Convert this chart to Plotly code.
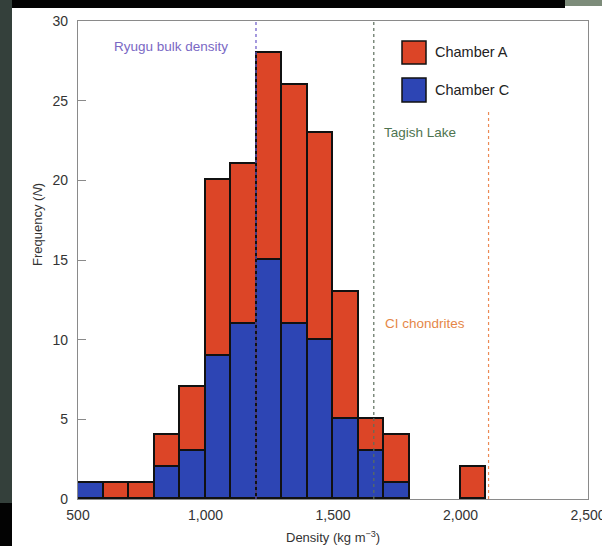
import plotly.graph_objects as go

# ---- data ----
bin_left = [500, 600, 700, 800, 900, 1000, 1100, 1200, 1300, 1400, 1500, 1600, 1700, 2000]
chamber_c = [1, 0, 0, 2, 3, 9, 11, 15, 11, 10, 5, 3, 1, 0]
chamber_a = [0, 1, 1, 2, 4, 11, 10, 13, 15, 13, 8, 2, 3, 2]
bin_width = 100
series_names = ["Chamber A", "Chamber C"]
series_colors = ["#dc4527", "#2d45b4"]

ref_names = ["Ryugu bulk density", "Tagish Lake", "CI chondrites"]
ref_values = [1198, 1660, 2110]
ref_tops = [30, 30, 24.3]
ref_line_colors = ["#6a56c8", "#5d6e5c", "#ec8a55"]
ref_text_colors = ["#7a68c4", "#4e7450", "#e58748"]

x_ticks = [500, 1000, 1500, 2000, 2500]
y_ticks = [0, 5, 10, 15, 20, 25, 30]

FONT = "Liberation Sans, Arial, Helvetica, sans-serif"
W, H = 602, 546
ML, MR, MT, MB = 78, 14, 21, 47
PW = W - ML - MR
PH = H - MT - MB

def px_x(p):
    return (p - ML) / PW

def px_y(p):
    return 1 - (p - MT) / PH

centers = [b + bin_width / 2 for b in bin_left]

fig = go.Figure()
fig.add_trace(go.Bar(x=centers, y=chamber_c, width=bin_width, name=series_names[1],
                     marker=dict(color=series_colors[1], line=dict(color="#111111", width=1.6)),
                     showlegend=False))
fig.add_trace(go.Bar(x=centers, y=chamber_a, width=bin_width, name=series_names[0],
                     marker=dict(color=series_colors[0], line=dict(color="#111111", width=1.6)),
                     showlegend=False))

for name, v, top, lc in zip(ref_names, ref_values, ref_tops, ref_line_colors):
    fig.add_trace(go.Scatter(x=[v, v], y=[0, top], mode="lines",
                             line=dict(color=lc, width=1.2, dash="dot"),
                             showlegend=False, hoverinfo="skip"))

annotations = []
# reference labels
annotations.append(dict(x=864, y=28.4, xref="x", yref="y", text=ref_names[0], showarrow=False,
                        xanchor="center", yanchor="middle",
                        font=dict(family=FONT, size=13.5, color=ref_text_colors[0])))
annotations.append(dict(x=1691, y=23.0, xref="x", yref="y", text=ref_names[1], showarrow=False,
                        xanchor="left", yanchor="middle",
                        font=dict(family=FONT, size=13.5, color=ref_text_colors[1])))
annotations.append(dict(x=1695, y=11.0, xref="x", yref="y", text=ref_names[2], showarrow=False,
                        xanchor="left", yanchor="middle",
                        font=dict(family=FONT, size=13.5, color=ref_text_colors[2])))
# axis titles
annotations.append(dict(x=px_x(38), y=17.2, xref="paper", yref="y", text="Frequency (<i>N</i>)",
                        textangle=-90, showarrow=False, xanchor="center", yanchor="middle",
                        font=dict(family=FONT, size=13, color="#333333")))
annotations.append(dict(x=0.5, y=px_y(537), xref="paper", yref="paper",
                        text="Density (kg m<sup>\u22123</sup>)", showarrow=False,
                        xanchor="center", yanchor="middle",
                        font=dict(family=FONT, size=13, color="#333333")))

shapes = []
# manual legend
leg_rows = [(series_names[0], series_colors[0], 41, 64), (series_names[1], series_colors[1], 78, 102)]
for name, col, y0, y1 in leg_rows:
    shapes.append(dict(type="rect", xref="paper", yref="paper",
                       x0=px_x(402), x1=px_x(426), y0=px_y(y1), y1=px_y(y0),
                       fillcolor=col, line=dict(color="#111111", width=1.5)))
    annotations.append(dict(x=px_x(433), y=px_y((y0 + y1) / 2), xref="paper", yref="paper",
                            text=name, showarrow=False, xanchor="left", yanchor="middle",
                            font=dict(family=FONT, size=14.5, color="#222222")))

# photo surroundings (dark edges)
shapes.append(dict(type="rect", xref="paper", yref="paper", x0=px_x(0), x1=px_x(12),
                   y0=px_y(503), y1=px_y(0), fillcolor="#34403b", line=dict(width=0), layer="above"))
shapes.append(dict(type="rect", xref="paper", yref="paper", x0=px_x(0), x1=px_x(12),
                   y0=px_y(546), y1=px_y(503), fillcolor="#030303", line=dict(width=0), layer="above"))
shapes.append(dict(type="rect", xref="paper", yref="paper", x0=px_x(12), x1=px_x(565),
                   y0=px_y(8), y1=px_y(0), fillcolor="#030303", line=dict(width=0), layer="above"))
shapes.append(dict(type="rect", xref="paper", yref="paper", x0=px_x(565), x1=px_x(602),
                   y0=px_y(6), y1=px_y(0), fillcolor="#7d8c7a", line=dict(width=0), layer="above"))

fig.update_layout(
    width=W, height=H,
    margin=dict(l=ML, r=MR, t=MT, b=MB, pad=0),
    paper_bgcolor="white", plot_bgcolor="white",
    barmode="stack", bargap=0,
    showlegend=False,
    font=dict(family=FONT, size=14, color="#333333"),
    annotations=annotations,
    shapes=shapes,
    xaxis=dict(range=[500, 2500], tickvals=x_ticks, tickformat=",", showgrid=False, zeroline=False,
               showline=True, linecolor="#8a8a8a", linewidth=1.2, mirror=True, automargin=False,
               ticks="", tickfont=dict(family=FONT, size=14, color="#333333"),
               ticklabelstandoff=3, ticklabeloverflow="allow"),
    yaxis=dict(range=[0, 30], tickvals=y_ticks, showgrid=False, zeroline=False,
               showline=True, linecolor="#8a8a8a", linewidth=1.2, mirror=True, automargin=False,
               ticks="inside", ticklen=8, tickcolor="#8a8a8a", tickwidth=1,
               tickfont=dict(family=FONT, size=14, color="#333333"),
               ticklabelstandoff=6, ticklabeloverflow="allow"),
)

fig.write_html("out.html", config={"displayModeBar": False},
               post_script="document.body.style.margin='0px';document.body.style.overflow='hidden';")
